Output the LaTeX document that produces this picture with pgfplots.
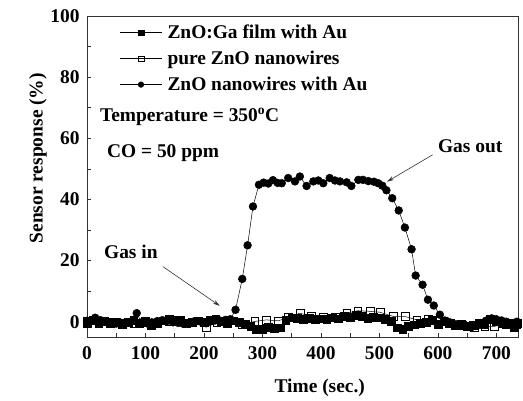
\documentclass[border=0pt]{standalone}
\usepackage{fontspec}
\setmainfont{Liberation Serif}
\usepackage{pgfplots}
\pgfplotsset{compat=1.18}
\usetikzlibrary{arrows.meta}
\begin{document}
\begin{tikzpicture}
\begin{axis}[
  scale only axis,
  width=431bp, height=321bp,
  xmin=0, xmax=737, ymin=-5, ymax=100,
  xtick={0,100,...,700}, ytick={0,20,...,100},
  minor xtick={50,150,...,750}, minor ytick={10,30,...,90},
  xtick pos=bottom, ytick pos=left,
  tick align=inside,
  major tick length=4bp, minor tick length=4bp,
  axis line style={line width=0.8pt, black!80},
  every tick/.style={black!80, line width=0.6pt},
  /pgf/number format/assume math mode=true,
  tick label style={font=\fontsize{19.5}{22}\selectfont\bfseries},
  xticklabel style={yshift=-6bp},
  yticklabel style={xshift=-4bp},
  label style={font=\fontsize{19.5}{22}\selectfont\bfseries},
  xlabel={Time (sec.)},
  ylabel={Sensor response (\%)},
  xlabel style={at={(axis description cs:0.54,0)}, anchor=center, yshift=-51bp},
  ylabel style={at={(axis description cs:0,0.557)}, anchor=center, yshift=49bp},
  legend style={draw=none, fill=none, at={(rel axis cs:0.068,0.985)}, anchor=north west,
    font=\fontsize{19.5}{22}\selectfont\bfseries, row sep=7bp, column sep=3bp},
  legend cell align=left,
  legend image code/.code={\draw[mark repeat=2,mark phase=2, mark size=2.8bp] plot coordinates {(0cm,0cm) (0.75cm,0cm) (1.5cm,0cm)};},
]
\addplot[black, line width=0.5pt, mark=square*, mark size=3.9bp, mark options={solid, fill=black}] coordinates {
(0,-0.5)(10,0.5)(20,-0.3)(30,0.2)(40,-0.6)(50,-0.2)(60,-0.8)(70,-0.3)(80,0.4)(90,-0.5)
(100,-0.2)(110,-1.2)(120,-0.4)(130,0.3)(140,0.8)(150,0.4)(160,0.1)(170,-0.5)(180,-0.2)(190,0.3)
(200,-0.1)(210,0.5)(220,0.7)(230,0.2)(240,-0.4)(250,0.3)(260,-0.3)(270,-0.8)(280,-1.5)(290,-2.6)
(300,-2.5)(310,-1.8)(320,-2.1)(330,-2.0)(340,0.6)(350,1.3)(360,1.1)(370,0.8)(380,1.2)(390,0.8)
(400,1.0)(410,0.9)(420,1.3)(430,1.0)(440,1.9)(450,1.5)(460,2.2)(470,1.8)(480,1.2)(490,1.5)
(500,1.3)(510,0.9)(520,0.2)(530,-2.0)(540,-2.5)(550,-1.4)(560,-1.0)(570,-0.6)(580,-0.2)(590,0.4)
(600,-0.8)(610,0.2)(620,-0.5)(630,-1.3)(640,-0.8)(650,-1.6)(660,-1.2)(670,-0.6)(680,-0.9)(690,0.8)
(700,0.2)(710,-0.4)(720,-0.6)(730,-1.8)(736,-0.5)
};
\addlegendentry{ZnO:Ga film with Au}
\addplot[black, line width=0.5pt, mark=square, mark size=3.9bp, mark options={solid, fill=white}] coordinates {
(0,0.2)(20,-0.5)(40,0)(60,-0.4)(80,-0.6)(100,0.3)(120,-0.5)(140,0.2)(160,0.4)(180,-0.3)
(204,-1.8)(222,-0.3)(240,0.1)(266,-0.8)(287,0.1)(307,0.6)(327,0.3)(344,1.4)(364,2.8)(384,1.7)
(404,1.4)(424,1.4)(444,2.8)(463,3.6)(484,3.4)(501,3.1)(524,1.7)(544,1.7)(564,0.6)(583,0.8)
(603,0.2)(622,-0.5)(642,-1.2)(662,-2.0)(680,-1.5)(697,-1.5)(716,-0.8)(735,-1.0)
};
\addlegendentry{pure ZnO nanowires}
\addplot[black, line width=0.5pt, mark=*, mark size=3.9bp, mark options={solid, fill=black}] coordinates {
(0,0.3)(9,0.6)(14,1.3)(23,0.5)(32,0.2)(41,-0.3)(50,-0.6)(59,-0.4)(68,-0.2)(77,0.2)
(85,2.8)(93,-0.2)(102,-0.5)(111,-0.2)(120,0.2)(129,0.5)(138,0.3)(147,-0.2)(156,-0.4)(165,-0.7)
(174,-0.3)(183,0.1)(192,0.2)(201,-0.2)(210,0.1)(219,0.4)(228,0.3)(237,0.6)(245,0.8)(254,3.9)
(265.5,14)(274.6,25)(283.8,37.7)(294,44.8)(302,45.5)(310,45.2)(318,46.3)(326,45.4)(333,45.3)(344,47)
(355.6,45.9)(364,47.5)(375.5,44.4)(387,45.9)(395.5,46.2)(404,45.3)(415,47)(424,46.2)(432.5,45.9)(444,45.6)
(452,44.4)(464,46.4)(472,46.4)(481,46)(490.6,45.8)(498,45.3)(505,44.5)(512,43.0)(522,40.4)(533,36.4)
(543.6,30.8)(555,23.7)(562,15.1)(573.8,12.1)(583,7.2)(593,5.3)(603.4,2.3)(612,0.4)(618,0.0)(625,-0.5)
(632,-0.9)(640,-1.3)(648,-1.5)(657,-1.8)(665,-1.4)(672,-1.0)(682,0.3)(692,1.1)(700,0.8)(709,0.4)
(717,0.0)(726,-0.5)(735,0.0)
};
\addlegendentry{ZnO nanowires with Au}
\node[anchor=west, inner xsep=0pt, font=\fontsize{19.5}{22}\selectfont\bfseries] at (axis cs:22,67) {Temperature = 350\textsuperscript{o}C};
\node[anchor=west, inner xsep=0pt, font=\fontsize{19.5}{22}\selectfont\bfseries] at (axis cs:34,55.2) {CO = 50 ppm};
\node[anchor=west, inner xsep=0pt, font=\fontsize{19.5}{22}\selectfont\bfseries] at (axis cs:600,57.5) {Gas out};
\node[anchor=west, inner xsep=0pt, font=\fontsize{19.5}{22}\selectfont\bfseries] at (axis cs:29,22.9) {Gas in};
\draw[-{Stealth[length=7bp,width=4bp]}, line width=0.6pt, black!80] (axis cs:130,18) -- (axis cs:227,5.2);
\draw[-{Stealth[length=7bp,width=4bp]}, line width=0.6pt, black!80] (axis cs:591,54.6) -- (axis cs:513,45.8);
\end{axis}
\path[use as bounding box] (current axis.south west) ++(-87bp,-60bp) rectangle ++(523bp,397bp);
\end{tikzpicture}
\end{document}
